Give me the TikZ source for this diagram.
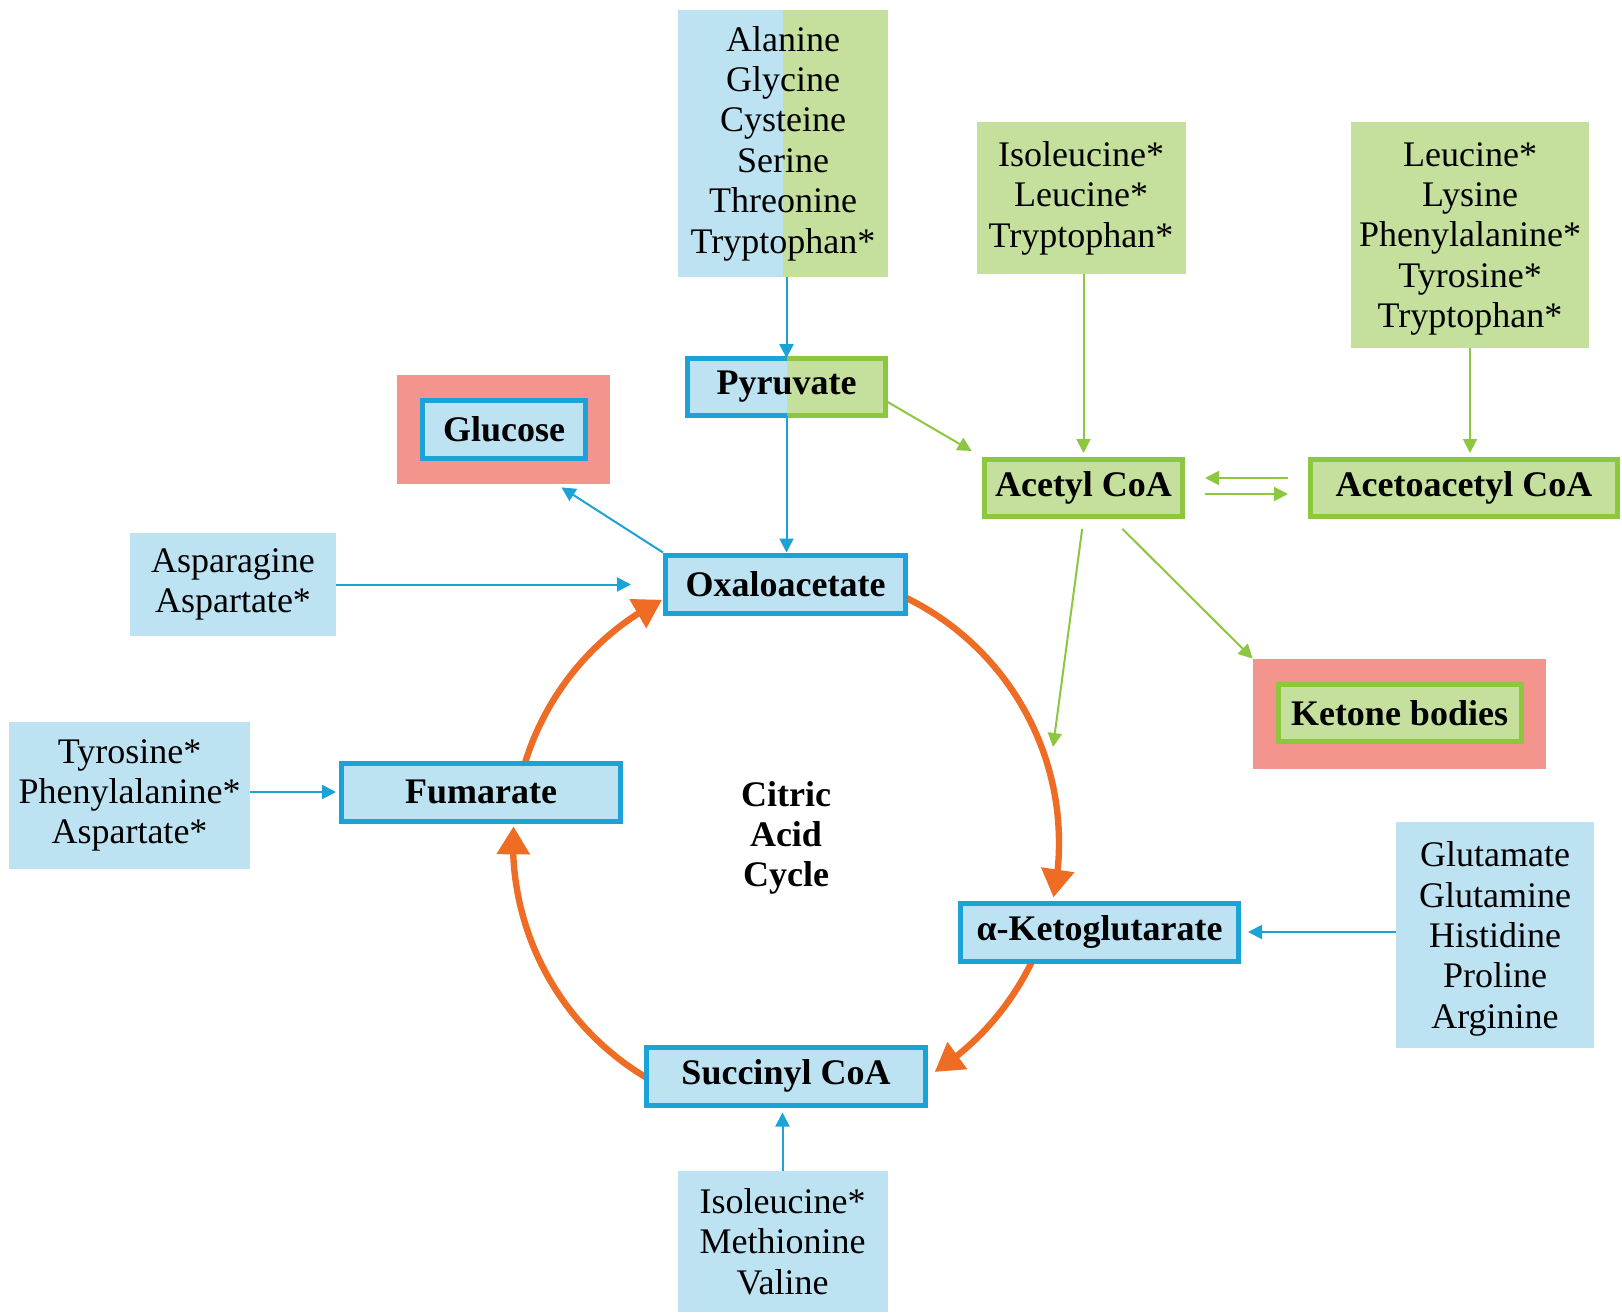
\documentclass[tikz,border=0pt]{standalone}
\usepackage{fontspec}
\setmainfont{Liberation Serif}
\usetikzlibrary{arrows.meta,bending,calc}
\definecolor{lblue}{HTML}{BDE3F3}
\definecolor{bblue}{HTML}{1BA3D7}
\definecolor{lgreen}{HTML}{C5DF9C}
\definecolor{bgreen}{HTML}{8DC63F}
\definecolor{salmon}{HTML}{F3948D}
\definecolor{orng}{HTML}{EF6C24}
\begin{document}
\begin{tikzpicture}[x=0.5pt,y=-0.5pt,
 every node/.style={inner sep=0pt, align=center, font=\fontsize{18}{20.2}\selectfont},
 wh/.style 2 args={minimum width=#1*0.5pt, minimum height=#2*0.5pt},
 bluelist/.style={fill=lblue},
 greenlist/.style={fill=lgreen},
 bluebox/.style={fill=lblue, draw=bblue, line width=2.5pt, font=\fontsize{18}{20.2}\selectfont\bfseries},
 greenbox/.style={fill=lgreen, draw=bgreen, line width=2.5pt, font=\fontsize{18}{20.2}\selectfont\bfseries},
 redframe/.style={fill=salmon},
 halves/.style={fill=lgreen, path picture={\fill[lblue] (path picture bounding box.south west) rectangle (path picture bounding box.north);}},
 barrow/.style={draw=bblue, line width=1pt, -{Triangle[length=7pt,width=7pt]}},
 garrow/.style={draw=bgreen, line width=1pt, -{Triangle[length=7pt,width=7pt]}},
 cyc/.style={draw=orng, line width=3.2pt, -{Triangle[length=14pt,width=16pt]}}
]
\fill[white] (0,0) rectangle (1622,1312);
\useasboundingbox (0,0) rectangle (1622,1312);

% citric acid cycle arcs
\coordinate (cc) at (786,843);
\draw[cyc] ($(cc)+(65:136.5pt)$) arc[start angle=65, end angle=-11.5, radius=136.5pt];
\draw[cyc] ($(cc)+(-24:136.5pt)$) arc[start angle=-24, end angle=-57, radius=136.5pt];
\draw[cyc] ($(cc)+(240:136.5pt)$) arc[start angle=240, end angle=176.5, radius=136.5pt];
\draw[cyc] ($(cc)+(163.5:136.5pt)$) arc[start angle=163.5, end angle=117, radius=136.5pt];

% source lists
\node[halves, wh={210}{267}] (mix) at (783,143.5) {Alanine\\Glycine\\Cysteine\\Serine\\Threonine\\Tryptophan*};
\node[greenlist, wh={209}{152}] (iso) at (1081,198) {Isoleucine*\\Leucine*\\Tryptophan*};
\node[greenlist, wh={238}{226}, text depth=0pt] (leu) at (1470,235) {Leucine*\\Lysine\\Phenylalanine*\\Tyrosine*\\Tryptophan*};
\node[bluelist, wh={206}{103}] (asp) at (233,584.5) {Asparagine\\Aspartate*};
\node[bluelist, wh={241}{147}] (tyr) at (129.5,795.5) {Tyrosine*\\Phenylalanine*\\Aspartate*};
\node[bluelist, wh={198}{226}, text depth=0pt] (glut) at (1495,935) {Glutamate\\Glutamine\\Histidine\\Proline\\Arginine};
\node[bluelist, wh={210}{141}] (bot) at (782.5,1241.5) {Isoleucine*\\Methionine\\Valine};

% metabolites
\node[halves, wh={198}{57}, font=\fontsize{18}{20.2}\selectfont\bfseries] (pyr) at (786.5,387) {Pyruvate};
\draw[bblue, line width=2.5pt] (pyr.north) -| (pyr.south west) -- (pyr.south);
\draw[bgreen, line width=2.5pt] (pyr.north) -| (pyr.south east) -- (pyr.south);
\node[redframe, wh={213}{109}] (gluout) at (503.5,429.5) {};
\node[bluebox, wh={163}{58}] (glc) at (504,429.5) {Glucose};
\node[greenbox, wh={198}{57}] (acetyl) at (1083.5,488) {Acetyl CoA};
\node[greenbox, wh={307}{57}] (aceto) at (1464,488) {Acetoacetyl CoA};
\node[bluebox, wh={240}{58}] (oxa) at (785.5,584) {Oxaloacetate};
\node[redframe, wh={293}{110}] (ketout) at (1399.5,714) {};
\node[greenbox, wh={243}{57}] (ket) at (1399.5,713) {Ketone bodies};
\node[bluebox, wh={279}{58}] (fum) at (481,792) {Fumarate};
\node[bluebox, wh={278}{58}] (akg) at (1099.5,932) {α-Ketoglutarate};
\node[bluebox, wh={279}{58}] (suc) at (786,1076) {Succinyl CoA};
\node[font=\fontsize{18}{20.2}\selectfont\bfseries, text depth=0pt] (cac) at (786,834) {Citric\\Acid\\Cycle};

% connectors
\draw[barrow] (pyr.north |- mix.south) -- (pyr.north);
\draw[barrow] (pyr.south) -- (pyr.south |- oxa.north);
\draw[garrow, shorten >=6pt] (pyr.-8) -- (acetyl.north west);
\draw[garrow, shorten >=2pt] (acetyl.north |- iso.south) -- (acetyl.north);
\draw[garrow, shorten >=2pt] (leu.south) -- (leu.south |- aceto.north);
\draw[garrow, shorten >=10pt, shorten <=10pt] ([yshift=5pt]aceto.west) -- ([yshift=5pt]acetyl.east);
\draw[garrow, shorten >=10pt, shorten <=10pt] ([yshift=-3pt]acetyl.east) -- ([yshift=-3pt]aceto.west);
\coordinate (acend) at (1053,747);
\draw[garrow, shorten <=5pt] (acetyl.south) -- (acend);
\draw[garrow, shorten <=7pt] ($(acetyl.south)+(29,0)$) -- (ketout.north west);
\draw[barrow] (oxa.north west) -- ($(gluout.south)+(58,3)$);
\draw[barrow, shorten >=16pt] (asp.east) -- (asp.east -| oxa.west);
\draw[barrow, shorten >=1.5pt] (fum.west -| tyr.east) -- (fum.west);
\draw[barrow, shorten >=3.5pt] (akg.east -| glut.west) -- (akg.east);
\draw[barrow, shorten >=2.5pt] (bot.north) -- (bot.north |- suc.south);
\end{tikzpicture}
\end{document}
